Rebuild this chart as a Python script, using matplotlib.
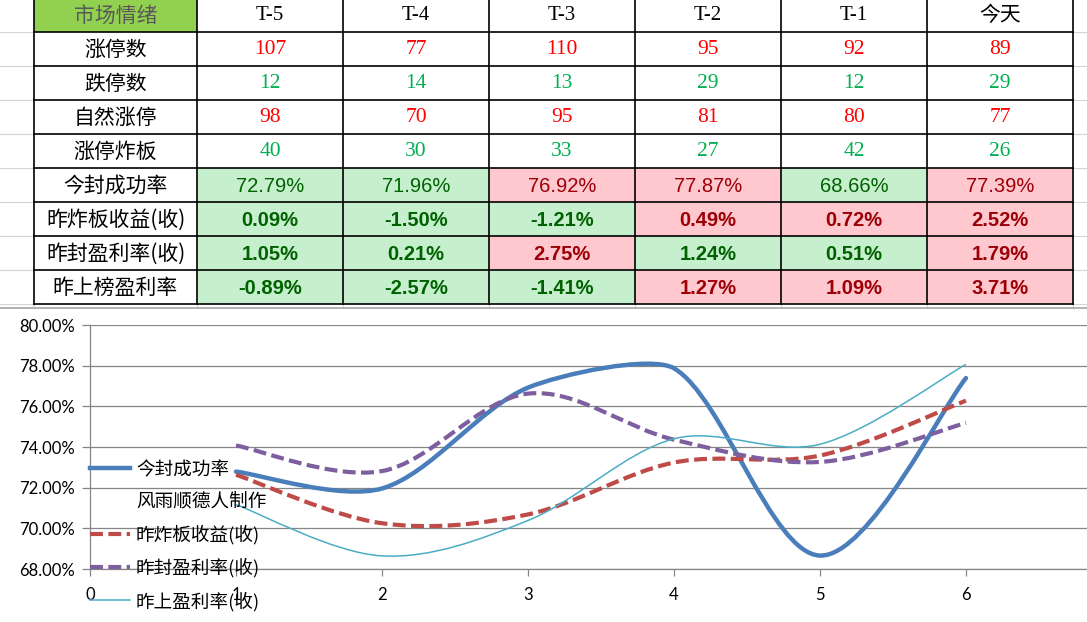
import matplotlib.pyplot as plt
import numpy as np
from matplotlib.path import Path
from matplotlib.patches import PathPatch, Rectangle
from matplotlib.lines import Line2D
from matplotlib.ticker import PercentFormatter

# ---- data ----
days = ['T-5', 'T-4', 'T-3', 'T-2', 'T-1', '今天']
limit_up = [107, 77, 110, 95, 92, 89]
limit_down = [12, 14, 13, 29, 12, 29]
natural_up = [98, 70, 95, 81, 80, 77]
broken = [40, 30, 33, 27, 42, 26]
seal_rate = [72.79, 71.96, 76.92, 77.87, 68.66, 77.39]
broken_ret = [0.09, -1.50, -1.21, 0.49, 0.72, 2.52]
sealed_ret = [1.05, 0.21, 2.75, 1.24, 0.51, 1.79]
list_ret = [-0.89, -2.57, -1.41, 1.27, 1.09, 3.71]
# conditional format: above this the cell goes pink
hot_level = [75.0, 0.3, 1.5, 0.0]

row_names = ['涨停数', '跌停数', '自然涨停', '涨停炸板', '今封成功率',
             '昨炸板收益(收)', '昨封盈利率(收)', '昨上榜盈利率']
series_names = ['今封成功率', '昨炸板收益(收)', '昨封盈利率(收)', '昨上盈利率(收)']
maker = '风雨顺德人制作'
x_pos = [1, 2, 3, 4, 5, 6]

CJK = 'Noto Sans CJK SC'


def smooth_path(xs, ys):
    # excel style smoothed line: cubic bezier through the points
    pts = np.column_stack([xs, ys]).astype(float)
    n = len(pts)
    verts = [pts[0]]
    codes = [Path.MOVETO]
    for i in range(n - 1):
        p0 = pts[max(i - 1, 0)]
        p1 = pts[i]
        p2 = pts[i + 1]
        p3 = pts[min(i + 2, n - 1)]
        d12 = np.hypot(*(p2 - p1))
        d02 = np.hypot(*(p2 - p0))
        d13 = np.hypot(*(p3 - p1))
        f1 = min(1 / 6, d12 / 2 / d02) if d02 else 0
        f2 = min(1 / 6, d12 / 2 / d13) if d13 else 0
        verts += [p1 + (p2 - p0) * f1, p2 - (p3 - p1) * f2, p2]
        codes += [Path.CURVE4] * 3
    return Path(verts, codes)


fig = plt.figure(figsize=(10.87, 6.22), dpi=100)

# ---- the table, drawn in pixel space ----
tab = fig.add_axes([0, 0, 1, 1])
tab.set_xlim(0, 1087)
tab.set_ylim(622, 0)
tab.axis('off')

col_edges = [34, 197, 343, 489, 635, 781, 927, 1073]
row_h = 34
top = -2.5
n_rows = len(row_names) + 1
row_edges = [top + i * row_h for i in range(n_rows + 1)]
bottom = row_edges[-1]


def cell_center(r, c):
    return (col_edges[c] + col_edges[c + 1]) / 2, (row_edges[r] + row_edges[r + 1]) / 2 + 1.5


# header
tab.add_patch(Rectangle((col_edges[0], top), col_edges[1] - col_edges[0], row_h,
                        color='#92D050', lw=0))
x, y = cell_center(0, 0)
tab.text(x, y, '市场情绪', ha='center', va='center', fontsize=15,
         family=CJK, color='#595959')
for j, d in enumerate(days):
    x, y = cell_center(0, j + 1)
    tab.text(x, y, d, ha='center', va='center', fontsize=15,
             family=['Liberation Serif', CJK], color='black')

for i, name in enumerate(row_names):
    x, y = cell_center(i + 1, 0)
    tab.text(x, y, name, ha='center', va='center', fontsize=15, family=CJK, color='black')

counts = [limit_up, limit_down, natural_up, broken]
count_colors = ['#FF0000', '#00B050', '#FF0000', '#00B050']
for i, vals in enumerate(counts):
    for j, v in enumerate(vals):
        x, y = cell_center(i + 1, j + 1)
        tab.text(x, y, str(v), ha='center', va='center', fontsize=15.5,
                 family='Liberation Serif', color=count_colors[i])

rates = [seal_rate, broken_ret, sealed_ret, list_ret]
for i, vals in enumerate(rates):
    r = i + 5
    for j, v in enumerate(vals):
        hot = v > hot_level[i]
        tab.add_patch(Rectangle((col_edges[j + 1], row_edges[r]),
                                col_edges[j + 2] - col_edges[j + 1], row_h,
                                color='#FFC7CE' if hot else '#C6EFCE', lw=0))
        x, y = cell_center(r, j + 1)
        tab.text(x, y, f'{v:.2f}%', ha='center', va='center', fontsize=14.5,
                 family='Liberation Sans', fontweight='normal' if i == 0 else 'bold',
                 color='#9C0006' if hot else '#006100')

# sheet gridlines outside the table
for ry in row_edges[1:]:
    tab.plot([0, col_edges[0]], [ry, ry], color='#D4D4D4', lw=0.8)
    tab.plot([col_edges[-1], 1087], [ry, ry], color='#D4D4D4', lw=0.8)
for cx in col_edges:
    tab.plot([cx, cx], [bottom, 308], color='#D4D4D4', lw=0.8)
# table borders
for ry in row_edges:
    tab.plot([col_edges[0], col_edges[-1]], [ry, ry], color='black', lw=1.2)
for cx in col_edges:
    tab.plot([cx, cx], [top, bottom], color='black', lw=1.2)
# chart object edge
tab.plot([0, 1087], [308, 308], color='#A6A6A6', lw=1.2)

# ---- the chart ----
px_unit = 146
ax = fig.add_axes([90 / 1087, (622 - 569) / 622, (1087 - 90) / 1087, (569 - 325) / 622])
ax.patch.set_visible(False)
ax.set_xlim(0, (1087 - 90) / px_unit)
ax.set_ylim(68, 80)
ax.set_yticks(np.arange(68, 81, 2))
ax.set_xticks(range(0, 7))
ax.yaxis.set_major_formatter(PercentFormatter(xmax=100, decimals=2))
ax.yaxis.grid(True, color='#868686', lw=0.9)
ax.set_axisbelow(True)
for s in ['top', 'right']:
    ax.spines[s].set_visible(False)
for s in ['left', 'bottom']:
    ax.spines[s].set_color('#868686')
    ax.spines[s].set_linewidth(0.9)
ax.tick_params(axis='y', direction='out', length=6, pad=5, color='#868686', width=0.9)
ax.tick_params(axis='x', direction='out', length=5, pad=8, color='#868686', width=0.9)
for lab in ax.get_xticklabels() + ax.get_yticklabels():
    lab.set_family('Lato')
    lab.set_fontsize(12)

ax.add_patch(PathPatch(smooth_path(x_pos, seal_rate), fill=False, ec='#4A7EBB',
                       lw=3.2, capstyle='round', joinstyle='round'))

ax2 = ax.twinx()
ax2.set_ylim(-3, 5)
ax2.axis('off')
sec_series = [broken_ret, sealed_ret, list_ret]
sec_colors = ['#BE4B48', '#7D5FA0', '#4BACC6']
sec_lw = [3.0, 3.0, 1.1]
sec_ls = [(0, (3.1, 1.3)), (0, (3.1, 1.3)), '-']
for vals, c, lw, ls in zip(sec_series, sec_colors, sec_lw, sec_ls):
    ax2.add_patch(PathPatch(smooth_path(x_pos, vals), fill=False, ec=c, lw=lw, ls=ls))

handles = [Line2D([], [], color='#4A7EBB', lw=3.2, label=series_names[0]),
           Line2D([], [], ls='none', label=maker)]
for name, c, lw, ls in zip(series_names[1:], sec_colors, sec_lw, sec_ls):
    handles.append(Line2D([], [], color=c, lw=lw, ls=ls, label=name))
ax2.legend(handles=handles, loc='center left',
           bbox_to_anchor=(90 / 1087, (622 - 536) / 622), bbox_transform=fig.transFigure,
           frameon=False, borderpad=0, borderaxespad=0, handlelength=2.15,
           handletextpad=0.32, labelspacing=0.74, prop={'family': CJK, 'size': 13.4})

fig.savefig('out.png', dpi=100, facecolor='white')
